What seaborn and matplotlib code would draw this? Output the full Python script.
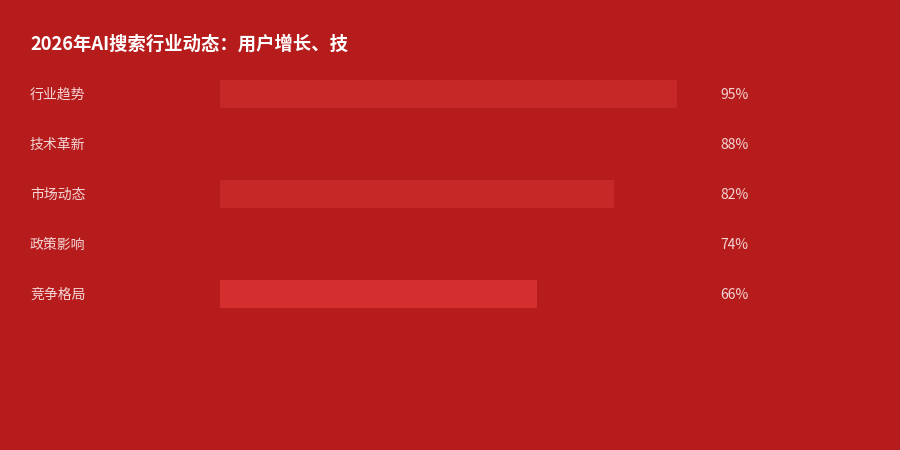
import matplotlib
matplotlib.use("Agg")
import matplotlib.pyplot as plt
import matplotlib.transforms as mtransforms
import seaborn as sns
import pandas as pd

categories = ["行业趋势", "技术革新", "市场动态", "政策影响", "竞争格局"]
values = [95, 88, 82, 74, 66]
value_labels = ["95%", "88%", "82%", "74%", "66%"]
bar_colors = ["#C62828", "#B71C1C", "#C62828", "#B71C1C", "#D32F2F"]
title = "2026年AI搜索行业动态：用户增长、技"

BG = "#B71C1C"
TEXT = "#F4D6D6"

sns.set_theme(style="white")
plt.rcParams["font.family"] = ["Noto Sans CJK SC", "DejaVu Sans"]

W, H = 900, 450
fig = plt.figure(figsize=(9, 4.5), dpi=100, facecolor=BG)

# axes: x pixels 220..701 for 0..100, y pixels 69..319 for 5 rows
ax = fig.add_axes([220 / W, (H - 319) / H, 481 / W, 250 / H])
ax.set_facecolor(BG)

df = pd.DataFrame({"cat": categories, "val": values})
sns.barplot(data=df, x="val", y="cat", hue="cat", palette=bar_colors,
            orient="h", width=0.56, legend=False, ax=ax, saturation=1,
            linewidth=0, edgecolor="none")
ax.set_xlim(0, 100)
ax.set_ylim(4.5, -0.5)
for s in ax.spines.values():
    s.set_visible(False)
ax.set_xticks([])
ax.set_yticks([])
ax.set_xlabel("")
ax.set_ylabel("")

trans = mtransforms.blended_transform_factory(fig.transFigure, ax.transData)
for i, (c, lab) in enumerate(zip(categories, value_labels)):
    ax.text(30 / W, i + 0.02, c, transform=trans, ha="left", va="center",
            fontsize=10, color=TEXT)
    ax.text(720 / W, i + 0.02, lab, transform=trans, ha="left", va="center",
            fontsize=10, color=TEXT)

fig.text(30 / W, 1 - 44 / H, title, ha="left", va="center",
         fontsize=13.2, fontweight="bold", color="white")

fig.savefig("out.png", dpi=100, facecolor=BG)
